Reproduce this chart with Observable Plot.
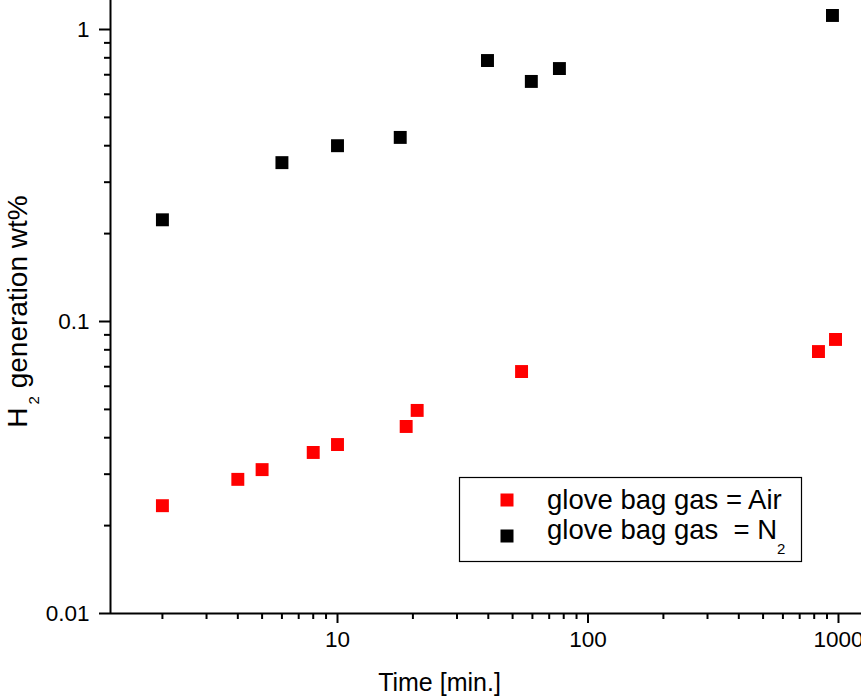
<!DOCTYPE html>
<html>
<head>
<meta charset="utf-8">
<script src="https://cdn.jsdelivr.net/npm/d3@7"></script>
<script src="https://cdn.jsdelivr.net/npm/@observablehq/plot@0.6"></script>
<style>
  html, body { margin: 0; padding: 0; background: #fff; }
  #chart { position: relative; width: 861px; height: 699px; overflow: hidden; }
</style>
</head>
<body>
<div id="chart"></div>
<script>
// ---- data ----
const airTime = [2, 4, 5, 8, 10, 18.8, 20.8, 54.3, 832, 973];
const airH2   = [0.0234, 0.0288, 0.0311, 0.0356, 0.0379, 0.0437, 0.0496, 0.0674, 0.0789, 0.0868];
const n2Time  = [2, 6, 10, 17.8, 39.7, 59.4, 76.9, 946];
const n2H2    = [0.223, 0.350, 0.400, 0.427, 0.783, 0.664, 0.735, 1.117];

const seriesNames = ["glove bag gas = Air", "glove bag gas  = N"];
const seriesColors = ["#ff0000", "#000000"];

const xMajorTicks = [10, 100, 1000];
const xMinorTicks = [2, 3, 4, 5, 6, 7, 8, 9, 20, 30, 40, 50, 60, 70, 80, 90, 200, 300, 400, 500, 600, 700, 800, 900];
const yMajorTicks = [0.01, 0.1, 1];
const yMinorTicks = [0.02, 0.03, 0.04, 0.05, 0.06, 0.07, 0.08, 0.09, 0.2, 0.3, 0.4, 0.5, 0.6, 0.7, 0.8, 0.9];

const xTitle = "Time [min.]";
const yTitleMain = "H";
const yTitleSub = "2";
const yTitleRest = " generation wt%";

// ---- build table ----
const points = [
  ...airTime.map((t, i) => ({time: t, h2: airH2[i], series: seriesNames[0]})),
  ...n2Time.map((t, i) => ({time: t, h2: n2H2[i], series: seriesNames[1]}))
];

const font = "'Liberation Sans', Arial, Helvetica, sans-serif";

const chart = Plot.plot({
  width: 861,
  height: 699,
  marginLeft: 110,
  marginRight: 0,
  marginTop: 0,
  marginBottom: 86,
  style: {fontFamily: font, fontSize: "22px", color: "#000", background: "#fff", overflow: "visible"},
  x: {type: "log", domain: [1.241, 1235.6]},
  y: {type: "log", domain: [0.01, 1.257]},
  color: {domain: seriesNames, range: seriesColors},
  marks: [
    Plot.axisX({ticks: xMinorTicks, tickSize: 6, strokeWidth: 2, tickFormat: () => "", label: null}),
    Plot.axisX({ticks: xMajorTicks, tickSize: 10, strokeWidth: 2, tickPadding: 8, fontSize: 22.5, tickFormat: d => String(d), label: null}),
    Plot.axisY({ticks: yMinorTicks, tickSize: 6, strokeWidth: 2, tickFormat: () => "", label: null}),
    Plot.axisY({ticks: yMajorTicks, tickSize: 11, strokeWidth: 2, tickPadding: 10, fontSize: 22.5, tickFormat: d => String(d), label: null}),
    Plot.ruleX([1.241], {stroke: "#000", strokeWidth: 2}),
    Plot.ruleY([0.01], {stroke: "#000", strokeWidth: 2}),
    Plot.dot(points, {x: "time", y: "h2", fill: "series", symbol: "square", r: 7.3, stroke: null})
  ]
});

document.getElementById("chart").appendChild(chart);

// ---- titles and legend, drawn into the same SVG ----
const svg = d3.select(chart);

svg.append("text")
  .attr("x", 439.5).attr("y", 691)
  .attr("text-anchor", "middle")
  .attr("font-family", font).attr("font-size", 25)
  .attr("fill", "#000")
  .text(xTitle);

const yt = svg.append("text")
  .attr("transform", "translate(27,311.5) rotate(-90)")
  .attr("text-anchor", "middle")
  .attr("font-family", font).attr("font-size", 28)
  .attr("fill", "#000");
yt.append("tspan").text(yTitleMain);
yt.append("tspan").attr("dy", 12).attr("dx", 3).attr("font-size", 15).text(yTitleSub);
yt.append("tspan").attr("dy", -12).text(yTitleRest);

const lg = svg.append("g").attr("text-anchor", "start");
lg.append("rect")
  .attr("x", 459.5).attr("y", 477.5).attr("width", 342).attr("height", 84)
  .attr("fill", "#fff").attr("stroke", "#000").attr("stroke-width", 1.2);
const rowsY = [500, 536];
const baseY = [509, 539];
seriesNames.forEach((name, i) => {
  lg.append("rect")
    .attr("x", 507 - 6.5).attr("y", rowsY[i] - 6.5).attr("width", 13).attr("height", 13)
    .attr("fill", seriesColors[i]);
  const t = lg.append("text")
    .attr("x", 547).attr("y", baseY[i])
    .attr("text-anchor", "start")
    .attr("font-family", font).attr("font-size", 27.5)
    .attr("fill", "#000")
    .style("white-space", "pre")
    .attr("xml:space", "preserve");
  t.append("tspan").text(name);
  if (i === 1) {
    t.append("tspan").attr("dy", 15).attr("font-size", 15).text("2");
  }
});
</script>
</body>
</html>
